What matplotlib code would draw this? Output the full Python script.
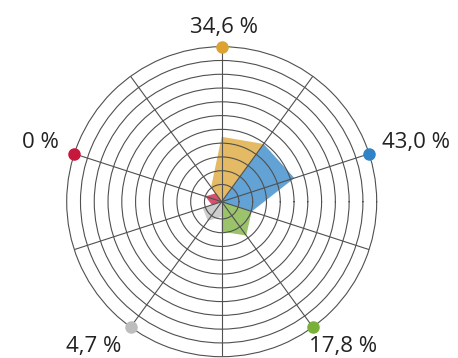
import numpy as np
import matplotlib
matplotlib.use("Agg")
import matplotlib.pyplot as plt

plt.rcParams['font.family'] = ['Open Sans', 'DejaVu Sans']

# main direction of each sector (degrees) and its value in %
angles = [90, 18, -54, -126, 162]
values = [34.6, 43.0, 17.8, 4.7, 0.0]
labels = ['34,6 %', '43,0 %', '17,8 %', '4,7 %', '0 %']
colors = ['#DCA331', '#2F83C6', '#7AAF3A', '#BDBDBD', '#C8173D']

# values on the neighbouring spokes (+36° and -36°) of each sector
left_vals = [0.6, 39.3, 10.4, -1.6, -5.0]
right_vals = [39.3, 10.4, 9.3, 2.0, -5.0]

# label offsets in pixels from the outer dot, and alignment
offsets = [(2, 13.5), (13, 5.7), (-4, -25), (-9.3, -25), (-15.7, 5.7)]
aligns = ['center', 'left', 'left', 'right', 'right']

rmin, rmax = -12.5, 100

fig = plt.figure(figsize=(4.58, 3.58), dpi=100)
ax = fig.add_axes([0.1456, 0.00363, 0.6769, 0.8659], projection='polar')
ax.set_ylim(rmin, rmax)

for a, v, lv, rv, c in zip(angles, values, left_vals, right_vals, colors):
    th = np.deg2rad([a, a + 36, a, a - 36])
    rr = [rmin, lv, v, rv]
    ax.fill(th, rr, color=c, alpha=0.75, lw=0, zorder=1)

# spokes every 36°, rings every 10 units
ax.set_xticks(np.deg2rad(np.arange(18, 360, 36)))
ax.set_xticklabels([])
ax.set_yticks(np.arange(0, 100, 10))
ax.set_yticklabels([])
ax.tick_params(length=0)
ax.grid(True, color='#505050', lw=0.8)
ax.set_axisbelow(False)
ax.spines['polar'].set_color('#505050')
ax.spines['polar'].set_linewidth(0.8)

# coloured dots on the outer ring with value labels
for a, lab, c, off, ha in zip(angles, labels, colors, offsets, aligns):
    t = np.deg2rad(a)
    ax.plot([t], [rmax], 'o', color=c, ms=8, clip_on=False, zorder=5)
    ax.annotate(lab, xy=(t, rmax), xytext=off, textcoords='offset pixels',
                ha=ha, va='baseline', fontsize=16, color='#222222',
                annotation_clip=False)

fig.savefig('out.png', dpi=100)
